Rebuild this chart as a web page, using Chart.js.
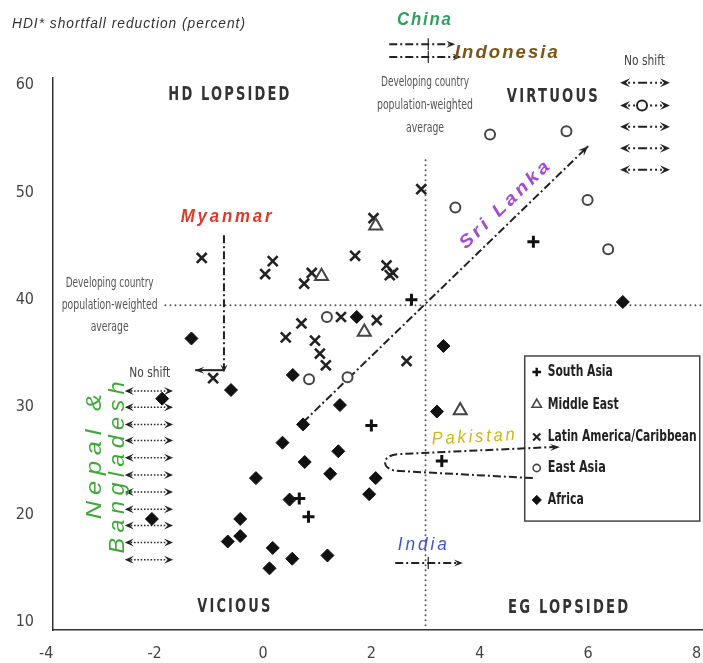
<!DOCTYPE html>
<html>
<head>
<meta charset="utf-8">
<script src="https://cdn.jsdelivr.net/npm/chart.js@4.4.1/dist/chart.umd.min.js"></script>
<style>
  body { margin: 0; background: #fff; }
</style>
</head>
<body>
<canvas id="hdiChart" width="703" height="663"></canvas>
<script>
// values
var xTicks = [-4, -2, 0, 2, 4, 6, 8];
var yTicks = [10, 20, 30, 40, 50, 60];

var southAsiaX = [2.74, 4.99, 2.00, 3.30, 0.67, 0.84];
var southAsiaY = [40.0, 45.4, 28.3, 25.0, 21.5, 19.8];

var middleEastX = [1.08, 2.08, 1.87, 3.64];
var middleEastY = [42.2, 46.9, 37.0, 29.7];

var latinX = [-1.13, 0.18, 0.04, 0.76, 0.90, 1.70, 2.04, 2.28, 2.34, 2.40, 2.92, 1.44, 2.10, 0.71, 0.42, 0.96, 1.05, 1.16, 2.65, -0.92];
var latinY = [43.9, 43.6, 42.4, 41.5, 42.5, 44.1, 47.6, 43.2, 42.3, 42.5, 50.3, 38.4, 38.1, 37.8, 36.5, 36.2, 35.0, 33.9, 34.3, 32.7];

var eastAsiaX = [1.18, 0.85, 1.56, 3.55, 4.19, 5.60, 5.99, 6.37];
var eastAsiaY = [38.4, 32.6, 32.8, 48.6, 55.4, 55.7, 49.3, 44.7];

var africaX = [1.73, -1.32, 0.55, -0.59, -1.86, 1.42, 0.74, 0.36, 1.39, 0.77, 1.24, 2.08, 1.96, -0.13, 0.49, -0.42, -2.05, -0.42, -0.65, 0.18, 0.54, 1.19, 0.12, 3.33, 3.21, 6.64];
var africaY = [38.4, 36.4, 33.0, 31.6, 30.8, 30.2, 28.4, 26.7, 25.9, 24.9, 23.8, 23.4, 21.9, 23.4, 21.4, 19.6, 19.6, 18.0, 17.5, 16.9, 15.9, 16.2, 15.0, 35.7, 29.6, 39.8];

// developing country population-weighted averages
var avgX = 3.0;
var avgY = 39.5;

// countries with no shift
var noShiftLeftX = [-2.55, -1.66];
var noShiftLeftY = [31.5, 30.0, 28.4, 26.9, 25.3, 23.7, 22.1, 20.5, 19.0, 17.4, 15.8];
var noShiftRightX = [6.59, 7.51];
var noShiftRightY = [60.2, 58.1, 56.1, 54.1, 52.1];

// country shifts [x, y]
var sriLanka = [[0.74, 28.6], [6.0, 54.3]];
var myanmar = [[-0.72, 46.0], [-0.72, 33.6], [-1.25, 33.45]];
var india = [[2.44, 15.5], [3.69, 15.5]];
var china = [[2.33, 63.8], [3.55, 63.8]];
var indonesia = [[2.33, 62.6], [3.66, 62.6]];
var pakistan = [[4.98, 23.4], [2.53, 24.06], [2.16, 24.06], [2.16, 25.64], [2.53, 25.64], [5.48, 26.3]];

function pts(xs, ys) {
  return xs.map(function (x, i) { return { x: x, y: ys[i] }; });
}

var narrow = "'Liberation Sans Narrow', 'DejaVu Sans Condensed', sans-serif";

var series = [
  { label: 'South Asia', data: pts(southAsiaX, southAsiaY), pointStyle: 'cross', pointRadius: 6, borderWidth: 3, borderColor: '#111', backgroundColor: '#111' },
  { label: 'Middle East', data: pts(middleEastX, middleEastY), pointStyle: 'triangle', pointRadius: 7.5, borderWidth: 2, borderColor: '#444', backgroundColor: '#fff' },
  { label: 'Latin America/Caribbean', data: pts(latinX, latinY), pointStyle: 'crossRot', pointRadius: 7, borderWidth: 2.6, borderColor: '#222', backgroundColor: '#222' },
  { label: 'East Asia', data: pts(eastAsiaX, eastAsiaY), pointStyle: 'circle', pointRadius: 5, borderWidth: 2, borderColor: '#444', backgroundColor: '#fff' },
  { label: 'Africa', data: pts(africaX, africaY), pointStyle: 'rectRot', pointRadius: 6.5, borderWidth: 1, borderColor: '#111', backgroundColor: '#111' }
];

function head(ctx, x1, y1, x2, y2, len, wid) {
  var a = Math.atan2(y2 - y1, x2 - x1);
  var c = Math.cos(a), s = Math.sin(a);
  ctx.save();
  ctx.setLineDash([]);
  ctx.beginPath();
  ctx.moveTo(x2, y2);
  ctx.lineTo(x2 - len * c + wid * s, y2 - len * s - wid * c);
  ctx.lineTo(x2 - len * 0.6 * c, y2 - len * 0.6 * s);
  ctx.lineTo(x2 - len * c - wid * s, y2 - len * s + wid * c);
  ctx.closePath();
  ctx.fill();
  ctx.restore();
}

function txt(ctx, s, x, y, o) {
  ctx.save();
  ctx.translate(x, y);
  if (o.rot) ctx.rotate(o.rot * Math.PI / 180);
  ctx.font = o.font;
  ctx.fillStyle = o.color;
  ctx.letterSpacing = (o.ls || 0) + 'px';
  ctx.textBaseline = 'middle';
  ctx.textAlign = 'left';
  var w = ctx.measureText(s).width - (o.ls || 0);
  if (o.w) ctx.scale(o.w / w, 1);
  ctx.fillText(s, o.align === 'left' ? 0 : -w / 2, 0);
  ctx.restore();
}

var overlay = {
  id: 'overlay',
  beforeDatasetsDraw: function (chart) {
    var ctx = chart.ctx, area = chart.chartArea;
    var X = function (v) { return chart.scales.x.getPixelForValue(v); };
    var Y = function (v) { return chart.scales.y.getPixelForValue(v); };
    ctx.save();

    // legend box
    ctx.fillStyle = '#fff';
    ctx.strokeStyle = '#444';
    ctx.lineWidth = 1.5;
    ctx.fillRect(X(4.83), Y(34.77), X(8.06) - X(4.83), Y(19.4) - Y(34.77));
    ctx.strokeRect(X(4.83), Y(34.77), X(8.06) - X(4.83), Y(19.4) - Y(34.77));

    // average lines
    ctx.strokeStyle = '#555';
    ctx.lineWidth = 2;
    ctx.lineCap = 'round';
    ctx.setLineDash([0, 5]);
    ctx.beginPath();
    ctx.moveTo(X(avgX), Y(53));
    ctx.lineTo(X(avgX), area.bottom);
    ctx.moveTo(X(-1.8), Y(avgY));
    ctx.lineTo(area.right, Y(avgY));
    ctx.stroke();

    ctx.lineCap = 'butt';
    ctx.strokeStyle = '#222';
    ctx.fillStyle = '#222';
    var dashDot = [8, 3, 2, 3];

    // Sri Lanka
    ctx.lineWidth = 2;
    ctx.setLineDash(dashDot);
    ctx.beginPath();
    ctx.moveTo(X(sriLanka[0][0]), Y(sriLanka[0][1]));
    ctx.lineTo(X(sriLanka[1][0]), Y(sriLanka[1][1]));
    ctx.stroke();
    head(ctx, X(sriLanka[0][0]), Y(sriLanka[0][1]), X(sriLanka[1][0]), Y(sriLanka[1][1]), 10, 4);

    // Myanmar
    ctx.beginPath();
    ctx.moveTo(X(myanmar[0][0]), Y(myanmar[0][1]));
    ctx.lineTo(X(myanmar[1][0]), Y(myanmar[1][1]));
    ctx.stroke();
    head(ctx, X(myanmar[0][0]), Y(myanmar[0][1]), X(myanmar[1][0]), Y(myanmar[1][1]) + 4, 8, 3.5);
    ctx.setLineDash([]);
    ctx.beginPath();
    ctx.moveTo(X(myanmar[1][0]), Y(myanmar[2][1]));
    ctx.lineTo(X(myanmar[2][0]), Y(myanmar[2][1]));
    ctx.stroke();
    head(ctx, X(myanmar[1][0]), Y(myanmar[2][1]), X(myanmar[2][0]), Y(myanmar[2][1]), 9, 3.5);

    // horizontal shifts: India, China, Indonesia
    [india, china, indonesia].forEach(function (a) {
      ctx.setLineDash(dashDot);
      ctx.lineWidth = 2;
      ctx.beginPath();
      ctx.moveTo(X(a[0][0]), Y(a[0][1]));
      ctx.lineTo(X(a[1][0]) - 6, Y(a[1][1]));
      ctx.stroke();
      ctx.setLineDash([]);
      ctx.lineWidth = 1.2;
      ctx.beginPath();
      ctx.moveTo(X(avgX + 0.05), Y(a[0][1]) - 6);
      ctx.lineTo(X(avgX + 0.05), Y(a[0][1]) + 6);
      ctx.stroke();
      head(ctx, X(a[0][0]), Y(a[0][1]), X(a[1][0]), Y(a[1][1]), 9, 3.5);
    });

    // Pakistan loop
    ctx.lineWidth = 2;
    ctx.setLineDash(dashDot);
    ctx.beginPath();
    ctx.moveTo(X(pakistan[0][0]), Y(pakistan[0][1]));
    ctx.lineTo(X(pakistan[1][0]), Y(pakistan[1][1]));
    ctx.bezierCurveTo(X(pakistan[2][0]), Y(pakistan[2][1]), X(pakistan[3][0]), Y(pakistan[3][1]), X(pakistan[4][0]), Y(pakistan[4][1]));
    ctx.lineTo(X(pakistan[5][0]) - 6, Y(pakistan[5][1]));
    ctx.stroke();
    head(ctx, X(pakistan[4][0]), Y(pakistan[4][1]), X(pakistan[5][0]), Y(pakistan[5][1]), 10, 3.5);

    // no-shift arrows, left block
    ctx.lineWidth = 1.5;
    noShiftLeftY.forEach(function (v) {
      var y = Y(v), a = X(noShiftLeftX[0]), b = X(noShiftLeftX[1]);
      ctx.setLineDash([1.5, 1.8]);
      ctx.beginPath();
      ctx.moveTo(a + 6, y);
      ctx.lineTo(b - 6, y);
      ctx.stroke();
      head(ctx, b, y, a, y, 9, 4);
      head(ctx, a, y, b, y, 9, 4);
    });

    // no-shift arrows, right block
    ctx.lineWidth = 2;
    noShiftRightY.forEach(function (v, i) {
      var y = Y(v), a = X(noShiftRightX[0]), b = X(noShiftRightX[1]);
      ctx.setLineDash([2, 3, 2, 3, 9, 3]);
      ctx.beginPath();
      ctx.moveTo(a + 8, y);
      ctx.lineTo(b - 8, y);
      ctx.stroke();
      head(ctx, b, y, a, y, 10, 4.5);
      head(ctx, a, y, b, y, 10, 4.5);
      if (i === 1) {
        ctx.setLineDash([]);
        ctx.fillStyle = '#fff';
        ctx.beginPath();
        ctx.arc((a + b) / 2 - 3, y, 5, 0, Math.PI * 2);
        ctx.fill();
        ctx.stroke();
        ctx.fillStyle = '#222';
      }
    });
    ctx.restore();
  },
  afterDatasetsDraw: function (chart) {
    var ctx = chart.ctx;
    var X = function (v) { return chart.scales.x.getPixelForValue(v); };
    var Y = function (v) { return chart.scales.y.getPixelForValue(v); };

    // axis title
    txt(ctx, 'HDI* shortfall reduction (percent)', 12, 24, { font: "italic 14px 'Liberation Sans', Arial, sans-serif", color: '#333', ls: 1, w: 233, align: 'left' });

    // quadrant names
    var quad = "bold 20px " + narrow;
    txt(ctx, 'HD LOPSIDED', X(-0.63), Y(59.1), { font: quad, color: '#333', ls: 3, w: 121 });
    txt(ctx, 'VIRTUOUS', X(5.34), Y(58.9), { font: quad, color: '#333', ls: 3, w: 91 });
    txt(ctx, 'VICIOUS', X(-0.54), Y(11.4), { font: quad, color: '#333', ls: 3, w: 73 });
    txt(ctx, 'EG LOPSIDED', X(5.63), Y(11.3), { font: quad, color: '#333', ls: 3, w: 120 });

    // average notes
    var note = "14px " + narrow;
    ['Developing country', 'population-weighted', 'average'].forEach(function (s, i) {
      txt(ctx, s, X(-2.83), Y(avgY) + (i - 1) * 22, { font: note, color: '#555', w: [88, 96, 38][i] });
      txt(ctx, s, X(2.99), Y(60.2) + i * 23, { font: note, color: '#555', w: [88, 96, 38][i] });
    });
    txt(ctx, 'No shift', X(-2.09), Y(33.15), { font: note, color: '#444', w: 41 });
    txt(ctx, 'No shift', X(7.04), Y(62.2), { font: note, color: '#444', w: 41 });

    // country names
    var cn = "bold italic 18px 'Liberation Sans', Arial, sans-serif";
    txt(ctx, 'China', X(2.97), Y(66.05), { font: cn, color: '#2f9e5e', ls: 2, w: 54 });
    txt(ctx, 'Indonesia', X(3.54), Y(63.0), { font: cn, color: '#7b5518', ls: 2, w: 103, align: 'left' });
    txt(ctx, 'Myanmar', X(-0.68), Y(47.7), { font: cn, color: '#d83a2b', ls: 3, w: 91 });
    txt(ctx, 'Sri Lanka', X(4.46), Y(48.8), { font: cn, color: '#a34ad4', ls: 3, w: 118, rot: -44 });
    var cr = "italic 18px 'Liberation Sans', Arial, sans-serif";
    txt(ctx, 'Pakistan', X(3.88), Y(27.2), { font: cr, color: '#cbb61e', ls: 3, w: 83, rot: -3 });
    txt(ctx, 'India', X(2.94), Y(17.2), { font: cr, color: '#3f55c9', ls: 3, w: 49 });
    var nb = "italic 22px 'Liberation Sans', Arial, sans-serif";
    txt(ctx, 'Nepal &', X(-3.1), Y(25.4), { font: nb, color: '#3fa83a', ls: 5, w: 125, rot: -90 });
    txt(ctx, 'Bangladesh', X(-2.68), Y(24.4), { font: nb, color: '#3fa83a', ls: 5, w: 172, rot: -90 });

    // legend entries
    var lx = X(4.83) + 12;
    var ly = [Y(34.77) + 16, Y(34.77) + 48.5, Y(34.77) + 81, Y(34.77) + 112, Y(34.77) + 144];
    series.forEach(function (d, i) {
      ctx.save();
      ctx.fillStyle = d.backgroundColor;
      ctx.strokeStyle = d.borderColor;
      ctx.lineWidth = d.borderWidth * 0.8;
      Chart.helpers.drawPoint(ctx, { pointStyle: d.pointStyle, radius: d.pointRadius * 0.72, borderWidth: d.borderWidth, rotation: 0 }, lx, ly[i]);
      ctx.restore();
      txt(ctx, d.label, lx + 11, ly[i], { font: "bold 16px " + narrow, color: '#222', align: 'left', w: [65, 71, 149, 58, 36][i] });
    });
  }
};

new Chart(document.getElementById('hdiChart'), {
  type: 'scatter',
  data: { datasets: series },
  options: {
    responsive: false,
    animation: false,
    devicePixelRatio: 1,
    layout: { autoPadding: false, padding: { top: 78, right: 0, left: 0, bottom: 0 } },
    plugins: { legend: { display: false }, tooltip: { enabled: false } },
    scales: {
      x: {
        type: 'linear',
        min: -3.875,
        max: 8.12,
        afterBuildTicks: function (axis) { axis.ticks = xTicks.map(function (v) { return { value: v }; }); },
        afterFit: function (axis) { axis.height = 33; axis.paddingLeft = 0; axis.paddingRight = 0; },
        grid: { display: false, drawTicks: false },
        border: { display: true, color: '#333', width: 1.5 },
        ticks: { autoSkip: false, maxRotation: 0, padding: 14, color: '#444', font: { family: narrow, size: 16 } }
      },
      y: {
        type: 'linear',
        min: 9.26,
        max: 60.65,
        afterBuildTicks: function (axis) { axis.ticks = yTicks.map(function (v) { return { value: v }; }); },
        afterFit: function (axis) { axis.width = 53; axis.paddingTop = 0; axis.paddingBottom = 0; },
        grid: { display: false, drawTicks: false },
        border: { display: true, color: '#333', width: 1.5 },
        ticks: { padding: 19, color: '#444', font: { family: narrow, size: 16 } }
      }
    }
  },
  plugins: [overlay]
});
</script>
</body>
</html>
